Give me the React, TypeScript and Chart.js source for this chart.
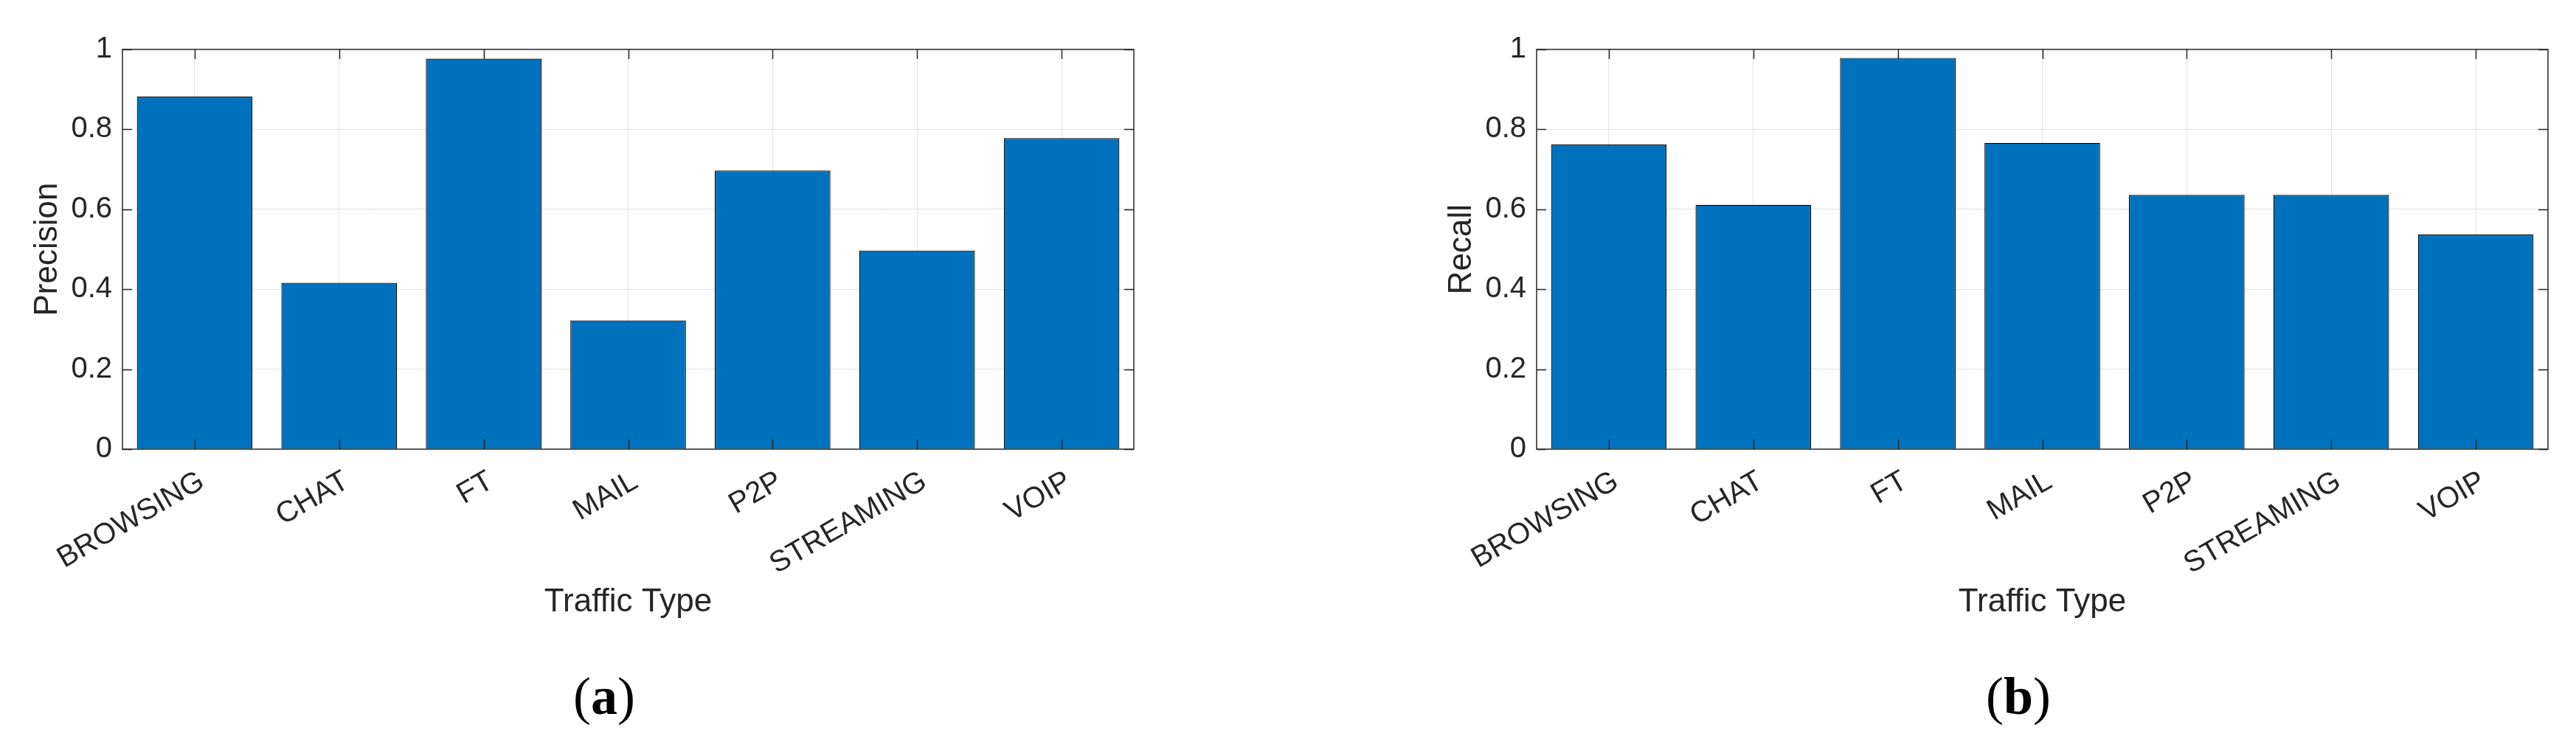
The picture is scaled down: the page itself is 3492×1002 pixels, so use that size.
import React, { useEffect, useRef } from "react";
import { Chart, registerables } from "chart.js";

Chart.register(...registerables);

const categories = ["BROWSING", "CHAT", "FT", "MAIL", "P2P", "STREAMING", "VOIP"];
const precisionValues = [0.882, 0.416, 0.977, 0.322, 0.697, 0.497, 0.778];
const recallValues = [0.762, 0.611, 0.979, 0.766, 0.636, 0.636, 0.537];
const yTickValues = [0, 0.2, 0.4, 0.6, 0.8, 1];
const yTickLabels = ["0", "0.2", "0.4", "0.6", "0.8", "1"];
const xAxisTitle = "Traffic Type";

const FONT = "'Liberation Sans', Arial, Helvetica, sans-serif";
const TEXT = "#262626";
const GRID = "#e1e1e1";
const BAR = "#0072BD";

const CANVAS_W = 1575;
const CANVAS_H = 880;

const boxPlugin = {
  id: "matlabBox",
  afterDatasetsDraw(chart: any) {
    const { ctx, chartArea: ca, scales } = chart;
    const tl = 13;
    ctx.save();
    ctx.strokeStyle = TEXT;
    ctx.lineWidth = 1.5;
    ctx.beginPath();
    yTickValues.forEach((v) => {
      const py = Math.round(scales.y.getPixelForValue(v)) + 0.5;
      ctx.moveTo(ca.left, py);
      ctx.lineTo(ca.left + tl, py);
      ctx.moveTo(ca.right, py);
      ctx.lineTo(ca.right - tl, py);
    });
    categories.forEach((_, i) => {
      const px = Math.round(scales.x.getPixelForValue(i)) + 0.5;
      ctx.moveTo(px, ca.bottom);
      ctx.lineTo(px, ca.bottom - tl);
      ctx.moveTo(px, ca.top);
      ctx.lineTo(px, ca.top + tl);
    });
    ctx.stroke();
    ctx.strokeRect(ca.left, ca.top, ca.right - ca.left, ca.bottom - ca.top);
    ctx.restore();
  },
};

function BarPanel({ values, yTitle }: { values: number[]; yTitle: string }) {
  const ref = useRef<HTMLCanvasElement>(null);
  useEffect(() => {
    if (!ref.current) return;
    const chart = new Chart(ref.current, {
      type: "bar",
      data: {
        labels: categories,
        datasets: [
          {
            data: values,
            backgroundColor: BAR,
            borderColor: "#000000",
            borderWidth: 1.2,
            categoryPercentage: 0.8,
            barPercentage: 1.0,
          },
        ],
      },
      options: {
        responsive: false,
        animation: false,
        devicePixelRatio: 1,
        layout: { padding: { left: 0, top: 67, right: 38, bottom: 0 } },
        plugins: {
          legend: { display: false },
          tooltip: { enabled: false },
        },
        scales: {
          x: {
            type: "category",
            offset: true,
            grid: { offset: false, color: GRID, lineWidth: 1, drawTicks: false },
            border: { display: false },
            ticks: {
              autoSkip: false,
              minRotation: 30,
              maxRotation: 30,
              padding: 20,
              labelOffset: 10,
              color: TEXT,
              font: { family: FONT, size: 40 },
            },
            title: {
              display: true,
              text: xAxisTitle,
              color: TEXT,
              font: { family: FONT, size: 44 },
              padding: { top: 0, bottom: 37 },
            },
            afterFit(scale: any) {
              scale.height = CANVAS_H - 609;
            },
          },
          y: {
            min: 0,
            max: 1,
            afterBuildTicks(scale: any) {
              scale.ticks = yTickValues.map((v) => ({ value: v }));
            },
            grid: { color: GRID, lineWidth: 1, drawTicks: false },
            border: { display: false },
            ticks: {
              padding: 14,
              color: TEXT,
              font: { family: FONT, size: 40 },
              callback: (_v: any, i: number) => yTickLabels[i],
            },
            title: {
              display: true,
              text: yTitle,
              color: TEXT,
              font: { family: FONT, size: 44 },
              padding: { top: 38, bottom: 0 },
            },
            afterFit(scale: any) {
              scale.width = 166;
            },
          },
        },
      },
      plugins: [boxPlugin],
    });
    return () => chart.destroy();
  }, [values, yTitle]);
  return (
    <canvas
      ref={ref}
      width={CANVAS_W}
      height={CANVAS_H}
      style={{ width: CANVAS_W, height: CANVAS_H, display: "block" }}
    />
  );
}

function Caption({ letter, center }: { letter: string; center: number }) {
  return (
    <div
      style={{
        position: "absolute",
        left: center - 100,
        top: 908,
        width: 200,
        textAlign: "center",
        fontFamily: "'Liberation Serif', 'Times New Roman', serif",
        fontSize: 72,
        lineHeight: "72px",
        color: "#000",
      }}
    >
      (<b>{letter}</b>)
    </div>
  );
}

export default function App() {
  return (
    <div
      style={{
        position: "fixed",
        left: 0,
        top: 0,
        width: 3492,
        height: 1002,
        background: "#ffffff",
        overflow: "hidden",
      }}
    >
      <div style={{ position: "absolute", left: 0, top: 0 }}>
        <BarPanel values={precisionValues} yTitle="Precision" />
      </div>
      <div style={{ position: "absolute", left: 1917, top: 0 }}>
        <BarPanel values={recallValues} yTitle="Recall" />
      </div>
      <Caption letter="a" center={819} />
      <Caption letter="b" center={2736} />
    </div>
  );
}
